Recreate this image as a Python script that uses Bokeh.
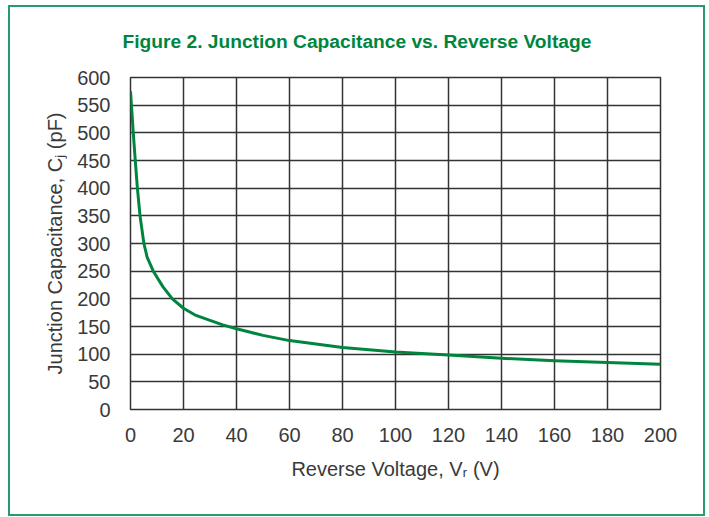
from bokeh.plotting import figure
from bokeh.models import FixedTicker, Range1d
from bokeh.embed import file_html
from bokeh.resources import INLINE

# Data
voltage = [0, 0.35, 1.05, 1.8, 2.6, 3.6, 5.05, 6.3, 8.6, 12.2, 15.8, 20, 24.7, 34.8,
           40, 50, 60, 80, 100, 120, 140, 160, 180, 200]
capacitance = [575, 550, 500, 450, 400, 350, 300, 275, 250, 222, 200, 183, 170, 153,
               146, 134, 124.5, 112, 104, 98.5, 92.5, 88, 85, 82]
x_ticks = [0, 20, 40, 60, 80, 100, 120, 140, 160, 180, 200]
y_ticks = [0, 50, 100, 150, 200, 250, 300, 350, 400, 450, 500, 550, 600]
title_text = "Figure 2. Junction Capacitance vs. Reverse Voltage"

GREEN = "#00853f"
BORDER = "#2a9a6c"
TEXT = "#3a3a3a"
FONT = "Liberation Sans"

p = figure(width=697, height=511, output_backend="svg", toolbar_location=None,
           x_range=Range1d(0, 200), y_range=Range1d(0, 600),
           min_border_left=120, min_border_right=47, min_border_top=70, min_border_bottom=109,
           title=title_text)
p.styles = {"border": f"2px solid {BORDER}", "margin-left": "8px", "margin-top": "5px"}

p.title.align = "left"
p.title.vertical_align = "top"
p.title.offset = -8
p.title.standoff = 47
p.title.text_color = GREEN
p.title.text_font = FONT
p.title.text_font_style = "bold"
p.title.text_font_size = "19.2px"

p.line(voltage, capacitance, line_color=GREEN, line_width=3, line_join="round")

p.xaxis.ticker = FixedTicker(ticks=x_ticks)
p.yaxis.ticker = FixedTicker(ticks=y_ticks)
p.xgrid.ticker = FixedTicker(ticks=x_ticks)
p.ygrid.ticker = FixedTicker(ticks=y_ticks)

for g in (p.xgrid, p.ygrid):
    g.grid_line_color = "#333333"
    g.grid_line_width = 1.5
    g.grid_line_alpha = 1.0

p.outline_line_color = "#333333"
p.outline_line_width = 1.5
p.outline_line_alpha = 1.0

for ax in (p.xaxis, p.yaxis):
    ax.axis_line_color = None
    ax.major_tick_line_color = None
    ax.minor_tick_line_color = None
    ax.major_tick_out = 0
    ax.major_tick_in = 0
    ax.major_label_text_font = FONT
    ax.major_label_text_font_size = "20px"
    ax.major_label_text_color = TEXT
    ax.axis_label_text_font = FONT
    ax.axis_label_text_font_size = "20px"
    ax.axis_label_text_color = TEXT
    ax.axis_label_text_font_style = "normal"

p.xaxis.major_label_standoff = 18
p.yaxis.major_label_standoff = 20
p.xaxis.axis_label = "Reverse Voltage, V\u1d63 (V)"
p.yaxis.axis_label = "Junction Capacitance, C\u2c7c (pF)"
p.xaxis.axis_label_standoff = 13
p.yaxis.axis_label_standoff = 8

p.background_fill_color = "white"
p.border_fill_color = "white"

open("out.html", "w").write(file_html(p, INLINE))
